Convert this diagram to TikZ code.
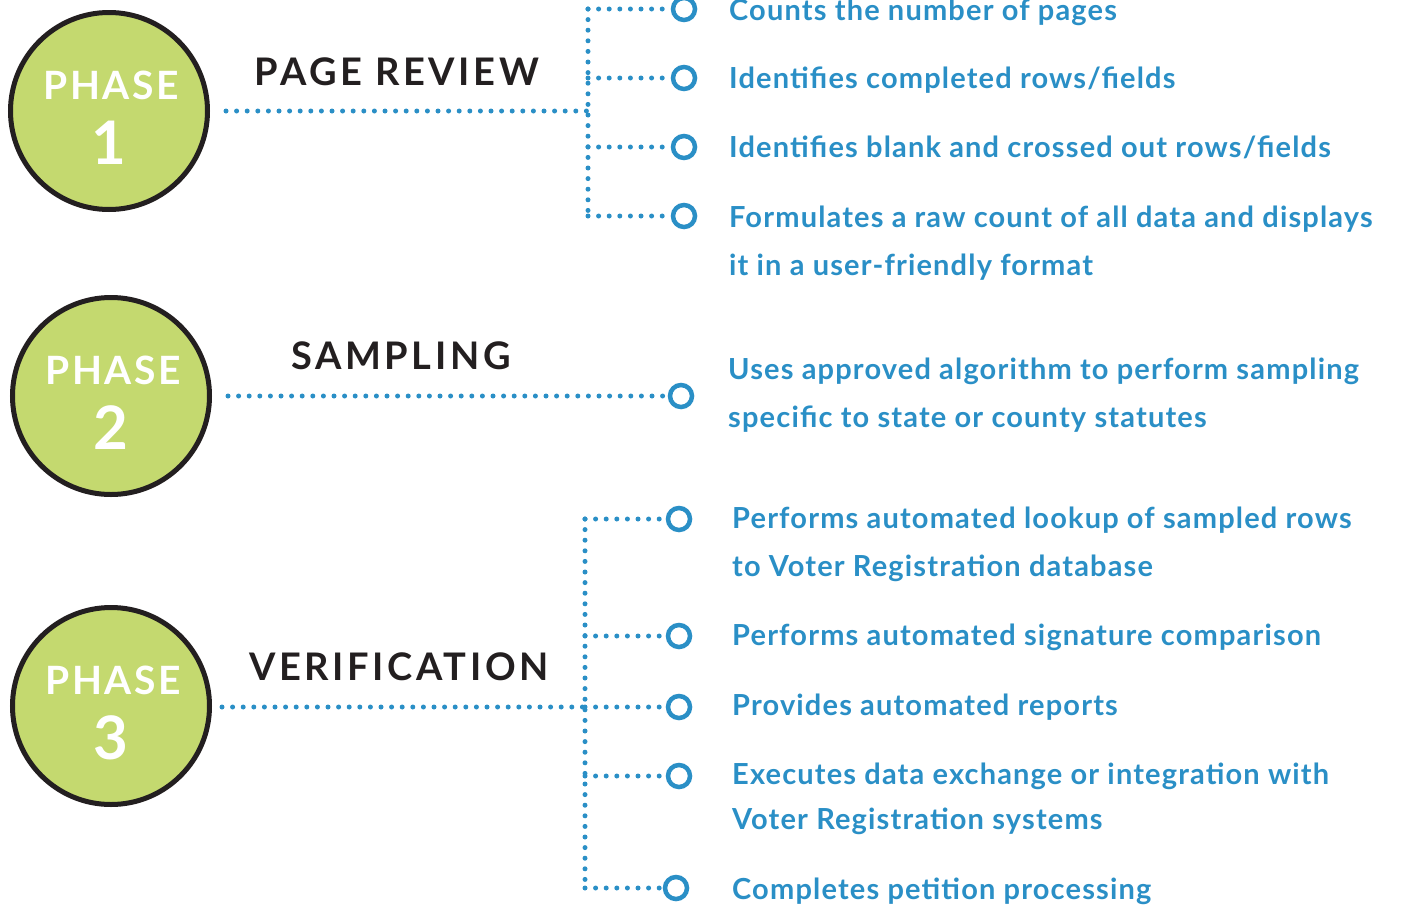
\documentclass[tikz,border=0pt]{standalone}
\usepackage{fontspec}
\setmainfont{Lato}
\newfontfamily\itemfont[LetterSpace=4]{Lato}
\newfontfamily\titlefont[LetterSpace=9.5]{Lato}
\newfontfamily\phasefont[LetterSpace=6.5]{Lato}
\definecolor{ink}{HTML}{231F20}
\definecolor{lime}{HTML}{C4D96F}
\definecolor{blueA}{HTML}{2A8FC6}
\begin{document}
\begin{tikzpicture}[x=1pt,y=-1pt,
 phase/.style={circle,draw=ink,fill=lime,line width=5pt,minimum size=197pt,inner sep=0pt},
 conn/.style={draw=blueA,line width=5pt,line cap=round,dash pattern=on 0pt off 10.6pt},
 bullet/.style={circle,draw=blueA,line width=4.5pt,minimum size=22pt,inner sep=0pt,fill=white},
 item/.style={anchor=base west,text=blueA,font=\itemfont\fontsize{29}{48}\selectfont\bfseries,align=left,inner sep=0pt},
 title/.style={text=ink,font=\titlefont\fontsize{38}{40}\selectfont\bfseries,inner sep=0pt},
 ptext/.style={text=white,font=\phasefont\fontsize{39}{40}\selectfont\bfseries,inner sep=0pt},
 pnum/.style={text=white,font=\fontsize{60}{60}\selectfont\bfseries,inner sep=0pt}]
\useasboundingbox (0,0) rectangle (1416,905);
% Phase 1
\node[phase] (p1) at (109,111) {};
\node[ptext] (p1a) at (111,85) {PHASE};
\node[pnum] (p1b) at (109,143) {1};
\node[title] (t1) at (397,72) {PAGE REVIEW};
\coordinate (s1) at (226,111);
\coordinate (j1) at (588,111);
\coordinate (c1a) at (588,9);
\coordinate (c1b) at (588,78);
\coordinate (c1c) at (588,147);
\coordinate (c1d) at (588,216);
\node[bullet] (b1a) at (684,9) {};
\node[bullet] (b1b) at (684,78) {};
\node[bullet] (b1c) at (684,147) {};
\node[bullet] (b1d) at (684,216) {};
\draw[conn] (s1) -- (j1);
\draw[conn] (c1a) -- (c1d);
\draw[conn] (c1a) -- (b1a.west);
\draw[conn] (c1b) -- (b1b.west);
\draw[conn] (c1c) -- (b1c.west);
\draw[conn] (c1d) -- (b1d.west);
\node[item] (i1a) at (729,20) {Counts the number of pages};
\node[item] (i1b) at (729,88) {Identifies completed rows/fields};
\node[item] (i1c) at (729,157) {Identifies blank and crossed out rows/fields};
\node[item] (i1d) at (729,275) {Formulates a raw count of all data and displays\\it in a user-friendly format};
% Phase 2
\node[phase] (p2) at (111,396) {};
\node[ptext] (p2a) at (113,370) {PHASE};
\node[pnum] (p2b) at (111,428) {2};
\node[title] (t2) at (401,356) {SAMPLING};
\coordinate (s2) at (228,396);
\node[bullet] (b2) at (681,396) {};
\draw[conn] (s2) -- (b2.west);
\node[item] (i2) at (728,427) {Uses approved algorithm to perform sampling\\specific to state or county statutes};
% Phase 3
\node[phase] (p3) at (111,706) {};
\node[ptext] (p3a) at (113,680) {PHASE};
\node[pnum] (p3b) at (111,738) {3};
\node[title] (t3) at (399,667) {VERIFICATION};
\coordinate (s3) at (222,707);
\coordinate (j3) at (585,707);
\coordinate (c3a) at (585,519);
\coordinate (c3b) at (585,636);
\coordinate (c3c) at (585,707);
\coordinate (c3d) at (585,776);
\coordinate (c3e) at (585,888);
\node[bullet] (b3a) at (679,519) {};
\node[bullet] (b3b) at (679,636) {};
\node[bullet] (b3c) at (679,707) {};
\node[bullet] (b3d) at (679,776) {};
\node[bullet] (b3e) at (676,888) {};
\draw[conn] (s3) -- (j3);
\draw[conn] (c3a) -- (c3e);
\draw[conn] (c3a) -- (b3a.west);
\draw[conn] (c3b) -- (b3b.west);
\draw[conn] (c3c) -- (b3c.west);
\draw[conn] (c3d) -- (b3d.west);
\draw[conn] (c3e) -- (b3e.west);
\node[item] (i3a) at (732,576) {Performs automated lookup of sampled rows\\to Voter Registration database};
\node[item] (i3b) at (732,645) {Performs automated signature comparison};
\node[item] (i3c) at (732,715) {Provides automated reports};
\node[item] (i3d) at (732,829) {Executes data exchange or integration with\\[-3pt]Voter Registration systems};
\node[item] (i3e) at (732,899) {Completes petition processing};
\end{tikzpicture}
\end{document}
